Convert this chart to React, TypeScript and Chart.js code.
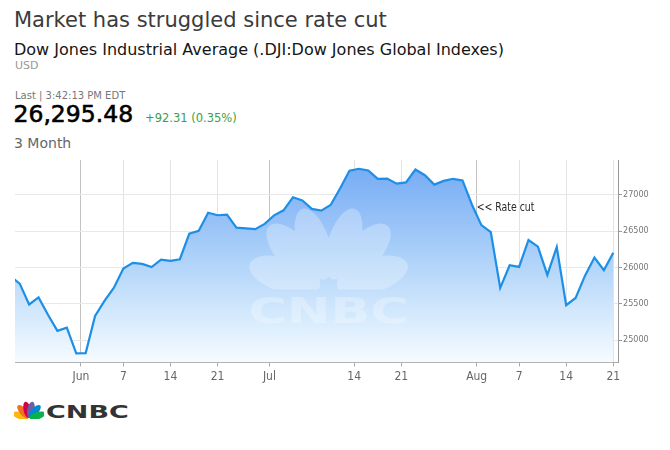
import React, { useEffect, useRef } from 'react';
import { Chart, registerables } from 'chart.js';

Chart.register(...registerables);

// ---------- data ----------
const tradingDates = [
  '2019-05-21', '2019-05-22', '2019-05-23', '2019-05-24', '2019-05-28', '2019-05-29', '2019-05-30', '2019-05-31',
  '2019-06-03', '2019-06-04', '2019-06-05', '2019-06-06', '2019-06-07',
  '2019-06-10', '2019-06-11', '2019-06-12', '2019-06-13', '2019-06-14',
  '2019-06-17', '2019-06-18', '2019-06-19', '2019-06-20', '2019-06-21',
  '2019-06-24', '2019-06-25', '2019-06-26', '2019-06-27', '2019-06-28',
  '2019-07-01', '2019-07-02', '2019-07-03', '2019-07-05',
  '2019-07-08', '2019-07-09', '2019-07-10', '2019-07-11', '2019-07-12',
  '2019-07-15', '2019-07-16', '2019-07-17', '2019-07-18', '2019-07-19',
  '2019-07-22', '2019-07-23', '2019-07-24', '2019-07-25', '2019-07-26',
  '2019-07-29', '2019-07-30', '2019-07-31', '2019-08-01', '2019-08-02',
  '2019-08-05', '2019-08-06', '2019-08-07', '2019-08-08', '2019-08-09',
  '2019-08-12', '2019-08-13', '2019-08-14', '2019-08-15', '2019-08-16',
  '2019-08-19', '2019-08-20', '2019-08-21',
];

const closeValues = [
  25877, 25777, 25490, 25586, 25348, 25126, 25170, 24815,
  24820, 25332, 25540, 25721, 25984,
  26063, 26049, 26005, 26107, 26090,
  26113, 26466, 26504, 26753, 26719,
  26728, 26548, 26537, 26527, 26600,
  26717, 26787, 26966, 26922,
  26806, 26783, 26860, 27088, 27332,
  27359, 27336, 27220, 27223, 27154,
  27172, 27349, 27270, 27141, 27192,
  27221, 27198, 26864, 26583, 26485,
  25718, 26030, 26007, 26378, 26287,
  25896, 26280, 25479, 25579, 25886,
  26136, 25962, 26203,
];

const viewStartDate = '2019-05-22';
const viewEndDate = '2019-08-21';

const xTickDates = [
  '2019-06-01', '2019-06-07', '2019-06-14', '2019-06-21', '2019-07-01', '2019-07-14',
  '2019-07-21', '2019-08-01', '2019-08-07', '2019-08-14', '2019-08-21',
];
const xTickLabels = ['Jun', '7', '14', '21', 'Jul', '14', '21', 'Aug', '7', '14', '21'];
const monthLabels = ['Jun', 'Jul', 'Aug'];

const yTickValues = [25000, 25500, 26000, 26500, 27000];
const yMin = 24690;
const yMax = 27480;

const annotationText = '<< Rate cut';
const annotationDate = '2019-08-01';
const annotationValue = 26830;

const titleText = 'Market has struggled since rate cut';
const subtitleText = 'Dow Jones Industrial Average (.DJI:Dow Jones Global Indexes)';
const currencyText = 'USD';
const lastText = 'Last | 3:42:13 PM EDT';
const priceText = '26,295.48';
const changeText = '+92.31 (0.35%)';
const rangeText = '3 Month';

// position of a date on the trading-day axis
function datePos(d: string): number {
  const i = tradingDates.indexOf(d);
  const monthStart = d.endsWith('-01');
  if (i >= 0) return monthStart ? i - 0.5 : i;
  const j = tradingDates.findIndex((t) => t > d);
  return j - 0.5;
}

const NARROW = '"Liberation Sans Narrow", "DejaVu Sans Condensed", Roboto, sans-serif';

const watermarkPlugin = {
  id: 'cnbcWatermark',
  afterDatasetDraw(chart: any, args: any) {
    if (args.index !== 1) return;
    const { ctx, chartArea } = chart;
    const w = chartArea.right - chartArea.left;
    const h = chartArea.bottom - chartArea.top;
    const px = chartArea.left + 0.52 * w;
    const py = chartArea.top + 0.64 * h;
    ctx.save();
    ctx.beginPath();
    ctx.rect(chartArea.left, chartArea.top, w, py - chartArea.top);
    ctx.clip();
    ctx.fillStyle = 'rgba(255,255,255,0.28)';
    const feathers = [
      { a: 162, d: 46, rx: 37, ry: 17 },
      { a: 133, d: 50, rx: 37, ry: 17 },
      { a: 108, d: 48, rx: 37, ry: 16 },
      { a: 72, d: 48, rx: 37, ry: 16 },
      { a: 47, d: 50, rx: 37, ry: 17 },
      { a: 18, d: 46, rx: 37, ry: 17 },
    ];
    ctx.beginPath();
    feathers.forEach((f) => {
      const r = (f.a * Math.PI) / 180;
      const cx = px + f.d * Math.cos(r);
      const cy = py - f.d * Math.sin(r);
      ctx.moveTo(cx + f.rx * Math.cos(-r), cy + f.rx * Math.sin(-r));
      ctx.ellipse(cx, cy, f.rx, f.ry, -r, 0, Math.PI * 2);
    });
    ctx.fill('nonzero');
    ctx.restore();

    ctx.save();
    ctx.fillStyle = 'rgba(255,255,255,0.28)';
    ctx.font = 'bold 36px "DejaVu Sans", sans-serif';
    ctx.textAlign = 'center';
    ctx.textBaseline = 'alphabetic';
    ctx.translate(px, py + 33);
    ctx.scale(1.45, 1);
    ctx.fillText('CNBC', 0, 0);
    ctx.restore();
  },
};

const annotationPlugin = {
  id: 'rateCut',
  afterDatasetsDraw(chart: any) {
    const { ctx, scales } = chart;
    const x = scales.x.getPixelForValue(datePos(annotationDate));
    const y = scales.y.getPixelForValue(annotationValue);
    ctx.save();
    ctx.fillStyle = '#2a2a2a';
    ctx.font = `13px ${NARROW}`;
    ctx.textAlign = 'left';
    ctx.textBaseline = 'middle';
    ctx.translate(x, y);
    ctx.scale(0.8, 1);
    ctx.fillText(annotationText, 0, 0);
    ctx.restore();
  },
};

function Peacock() {
  const feathers = [
    { a: 162, c: '#FCB711' },
    { a: 130, c: '#F37021' },
    { a: 102, c: '#CC004C' },
    { a: 78, c: '#6460AA' },
    { a: 50, c: '#0089D0' },
    { a: 18, c: '#0DB14B' },
  ];
  return (
    <svg width={30} height={19} viewBox="0 0 30 19" style={{ position: 'absolute', left: 14, top: 400 }}>
      {feathers.map((f, i) => {
        const r = (f.a * Math.PI) / 180;
        const cx = 15 + 9 * Math.cos(r);
        const cy = 18.5 - 9 * Math.sin(r);
        return (
          <ellipse key={i} cx={cx} cy={cy} rx={8.2} ry={3.6} fill={f.c} transform={`rotate(${-f.a} ${cx} ${cy})`} />
        );
      })}
    </svg>
  );
}

function Txt(props: { text: string; fs: number; baseline: number; left: number; color: string; stroke?: string }) {
  const { text, fs, baseline, left, color, stroke } = props;
  return (
    <div
      style={{
        position: 'absolute',
        left,
        top: baseline - 0.846 * fs,
        fontSize: fs,
        lineHeight: `${fs}px`,
        height: fs,
        color,
        fontFamily: '"DejaVu Sans", sans-serif',
        whiteSpace: 'nowrap',
        WebkitTextStroke: stroke,
      }}
    >
      {text}
    </div>
  );
}

export default function App() {
  const canvasRef = useRef<HTMLCanvasElement | null>(null);

  useEffect(() => {
    const canvas = canvasRef.current;
    if (!canvas) return;
    const points = closeValues.map((v, i) => ({ x: i, y: v }));
    const tickPositions = xTickDates.map(datePos);
    const xMin = tradingDates.indexOf(viewStartDate) - 0.5;
    const xMax = tradingDates.indexOf(viewEndDate) + 0.5;

    const chart = new Chart(canvas, {
      type: 'line',
      data: {
        datasets: [
          {
            data: points,
            borderColor: '#1d8fe6',
            borderWidth: 2.2,
            pointRadius: 0,
            fill: false,
            tension: 0,
          },
          {
            data: points,
            borderColor: 'rgba(0,0,0,0)',
            borderWidth: 0,
            pointRadius: 0,
            fill: 'start',
            tension: 0,
            backgroundColor: (c: any) => {
              const { chart: ch } = c;
              const area = ch.chartArea;
              if (!area) return 'rgba(120,170,245,0.5)';
              const g = ch.ctx.createLinearGradient(0, area.top, 0, area.bottom);
              g.addColorStop(0, '#72a8f4');
              g.addColorStop(0.45, '#a9cff9');
              g.addColorStop(0.8, '#d9ecfd');
              g.addColorStop(1, '#f7fbff');
              return g;
            },
          },
        ],
      },
      options: {
        responsive: false,
        animation: false,
        devicePixelRatio: 1,
        layout: { padding: { left: 15, right: 7, top: 10, bottom: 7.5 } },
        plugins: {
          legend: { display: false },
          tooltip: { enabled: false },
        },
        scales: {
          x: {
            type: 'linear',
            min: xMin,
            max: xMax,
            afterBuildTicks: (s: any) => {
              s.ticks = tickPositions.map((v) => ({ value: v }));
            },
            afterFit: (s: any) => {
              s.height = 30;
            },
            ticks: {
              autoSkip: false,
              maxRotation: 0,
              padding: 3,
              color: '#666',
              font: { family: NARROW, size: 12 },
              callback: (_v: any, i: number) => xTickLabels[i],
            },
            grid: {
              color: (c: any) => (c.tick && monthLabels.includes(xTickLabels[c.index]) ? '#c2c2c2' : '#e3e3e3'),
              tickColor: '#aaa',
              tickLength: 4,
              lineWidth: 1,
            },
            border: { display: true, color: '#aaa' },
          },
          y: {
            type: 'linear',
            position: 'right',
            min: yMin,
            max: yMax,
            afterBuildTicks: (s: any) => {
              s.ticks = yTickValues.map((v) => ({ value: v }));
            },
            afterFit: (s: any) => {
              s.width = 45;
            },
            ticks: {
              padding: 1,
              color: '#777',
              font: { family: NARROW, size: 9 },
              callback: (v: any) => String(v),
            },
            grid: {
              color: '#e8e8e8',
              tickColor: '#999',
              tickLength: 4,
            },
            border: { display: true, color: '#999' },
          },
        },
      },
      plugins: [watermarkPlugin, annotationPlugin],
    } as any);

    return () => chart.destroy();
  }, []);

  return (
    <div style={{ position: 'absolute', left: 0, top: 0, width: 670, height: 450, background: '#fff', overflow: 'hidden' }}>
      <Txt text={titleText} fs={21} baseline={27.5} left={14} color="#3b3b3b" />
      <Txt text={subtitleText} fs={16} baseline={55.5} left={14} color="#151515" />
      <Txt text={currencyText} fs={11} baseline={69.5} left={15} color="#999" />
      <Txt text={lastText} fs={10} baseline={99} left={15} color="#777" />
      <Txt text={priceText} fs={23.5} baseline={122.7} left={13.5} color="#000" stroke="0.6px #000" />
      <Txt text={changeText} fs={11.5} baseline={122.7} left={145} color="#3d9e47" />
      <Txt text={rangeText} fs={14} baseline={148.3} left={14} color="#666" />
      <canvas
        ref={canvasRef}
        width={670}
        height={250}
        style={{ position: 'absolute', left: 0, top: 150, width: 670, height: 250, display: 'block' }}
      />
      <Peacock />
      <div
        style={{
          position: 'absolute',
          left: 46,
          top: 418 - 0.846 * 18,
          fontSize: 18,
          lineHeight: '18px',
          fontWeight: 700,
          fontFamily: '"DejaVu Sans", sans-serif',
          color: '#333',
          transform: 'scaleX(1.5)',
          transformOrigin: 'left center',
          whiteSpace: 'nowrap',
        }}
      >
        CNBC
      </div>
    </div>
  );
}
